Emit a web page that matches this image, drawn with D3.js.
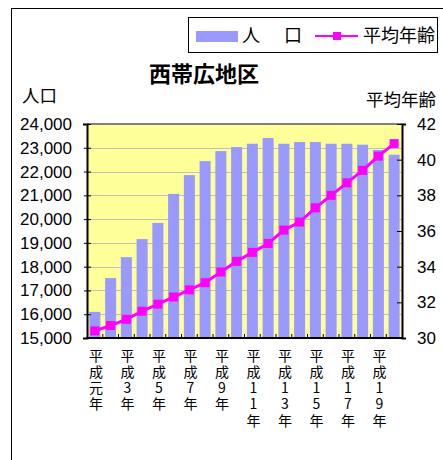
<!DOCTYPE html>
<html><head><meta charset="utf-8">
<script src="https://cdn.jsdelivr.net/npm/d3@7"></script>
<style>body{margin:0;background:#fff}svg{display:block}
.vt{writing-mode:vertical-rl;text-orientation:upright;}</style>
</head><body><svg id="c" width="443" height="460"></svg>
<script>
const years = ["平成元年","平成2年","平成3年","平成4年","平成5年","平成6年","平成7年","平成8年","平成9年","平成10年",
  "平成11年","平成12年","平成13年","平成14年","平成15年","平成16年","平成17年","平成18年","平成19年","平成20年"];
const shownLabels = ["平成元年","平成3年","平成5年","平成7年","平成9年","平成11年","平成13年","平成15年","平成17年","平成19年"];
const population = [16100,17520,18400,19160,19840,21060,21850,22440,22860,23030,23170,23410,23170,23240,23240,23170,23170,23130,22910,22710];
const avgAge = [30.4,30.7,31.05,31.5,31.9,32.3,32.7,33.1,33.7,34.3,34.8,35.3,36.05,36.5,37.3,38.0,38.7,39.4,40.2,40.9];
const popTicks = [15000,16000,17000,18000,19000,20000,21000,22000,23000,24000];
const ageTicks = [30,32,34,36,38,40,42];

const svg = d3.select("#c");
const JP = "'Noto Sans CJK JP', sans-serif";
const NUM = "'Liberation Sans', Arial, sans-serif";
const L = 87, R = 402, T = 124, B = 338;

// outer frame
svg.append("rect").attr("x",11.5).attr("y",8.5).attr("width",480).attr("height",480)
  .attr("fill","none").attr("stroke","#000").attr("stroke-width",1);

const x = d3.scaleBand().domain(years).range([L,R]).paddingInner(0.3).paddingOuter(0.15);
const yL = d3.scaleLinear().domain([15000,24000]).range([B,T]);
const yR = d3.scaleLinear().domain([30,42]).range([B,T]);

// plot background
svg.append("rect").attr("x",L).attr("y",T).attr("width",R-L).attr("height",B-T).attr("fill","#FFFF99");
// gridlines
svg.append("g").selectAll("line").data(popTicks.slice(1,-1)).join("line")
  .attr("x1",L).attr("x2",R).attr("y1",d=>Math.round(yL(d))+0.5).attr("y2",d=>Math.round(yL(d))+0.5)
  .attr("stroke","#C0C0C0").attr("stroke-width",1);

// bars
svg.append("g").selectAll("rect").data(population).join("rect")
  .attr("x",(d,i)=>x(years[i])).attr("width",x.bandwidth())
  .attr("y",d=>yL(d)).attr("height",d=>B-yL(d)).attr("fill","#9999FF");

// top border
svg.append("line").attr("x1",L).attr("x2",R).attr("y1",T).attr("y2",T).attr("stroke","#808080").attr("stroke-width",2);

// left axis
const gl = svg.append("g").attr("transform",`translate(${L},0)`)
  .call(d3.axisLeft(yL).tickValues(popTicks).tickFormat(d3.format(",")).tickSize(4).tickPadding(11));
gl.select(".domain").attr("stroke","#000").attr("stroke-width",2);
gl.selectAll(".tick line").attr("stroke","#000").attr("x2",-3).attr("x1",4);
gl.selectAll("text").attr("font-family",NUM).attr("font-size",17).attr("fill","#000");

// right axis
const gr = svg.append("g").attr("transform",`translate(${R},0)`)
  .call(d3.axisRight(yR).tickValues(ageTicks).tickSize(4).tickPadding(11));
gr.select(".domain").attr("stroke","#000").attr("stroke-width",2);
gr.selectAll(".tick line").attr("stroke","#000").attr("x1",-5).attr("x2",0);
gr.selectAll("text").attr("font-family",NUM).attr("font-size",17).attr("fill","#000");

// bottom axis
svg.append("line").attr("x1",L-1).attr("x2",R+1).attr("y1",B).attr("y2",B).attr("stroke","#000").attr("stroke-width",2);
svg.append("g").selectAll("line").data(years.slice(1)).join("line")
  .attr("x1",d=>x(d)-x.step()*x.paddingInner()/2).attr("x2",d=>x(d)-x.step()*x.paddingInner()/2)
  .attr("y1",B-4).attr("y2",B).attr("stroke","#000").attr("stroke-width",1);

// line series
const line = d3.line().x((d,i)=>x(years[i])+x.bandwidth()/2).y(d=>yR(d));
svg.append("path").datum(avgAge).attr("d",line).attr("fill","none").attr("stroke","#FF00FF").attr("stroke-width",3);
svg.append("g").selectAll("rect").data(avgAge).join("rect")
  .attr("x",(d,i)=>x(years[i])+x.bandwidth()/2-4.5).attr("y",d=>yR(d)-4.5)
  .attr("width",9).attr("height",9).attr("fill","#FF00FF");

// x labels (vertical text)
svg.append("g").selectAll("text").data(shownLabels).join("text")
  .attr("class","vt")
  .attr("x",d=>x(d)+x.bandwidth()/2+1).attr("y",348.5)
  .attr("font-family",JP).attr("font-size",14).attr("letter-spacing",2.2).attr("fill","#000")
  .text(d=>d);

// title & axis titles
svg.append("text").attr("x",204).attr("y",82).attr("text-anchor","middle").attr("font-family",JP)
  .attr("font-weight","bold").attr("font-size",22).text("西帯広地区");
svg.append("text").attr("x",22).attr("y",102).attr("font-family",JP).attr("font-size",17.5).text("人口");
svg.append("text").attr("x",436).attr("y",106).attr("text-anchor","end").attr("font-family",JP).attr("font-size",17.5).text("平均年齢");

// legend
svg.append("rect").attr("x",188.5).attr("y",17.5).attr("width",249).attr("height",35).attr("fill","#fff").attr("stroke","#000").attr("stroke-width",1);
svg.append("rect").attr("x",196).attr("y",31).attr("width",42).attr("height",11).attr("fill","#9999FF");
svg.append("text").attr("x",242).attr("y",42).attr("font-family",JP).attr("font-size",18).attr("letter-spacing",3).text("人　口");
svg.append("line").attr("x1",315).attr("x2",358).attr("y1",36).attr("y2",36).attr("stroke","#FF00FF").attr("stroke-width",2);
svg.append("rect").attr("x",333).attr("y",32).attr("width",8).attr("height",8).attr("fill","#FF00FF");
svg.append("text").attr("x",363).attr("y",42).attr("font-family",JP).attr("font-size",18).text("平均年齢");
</script></body></html>
